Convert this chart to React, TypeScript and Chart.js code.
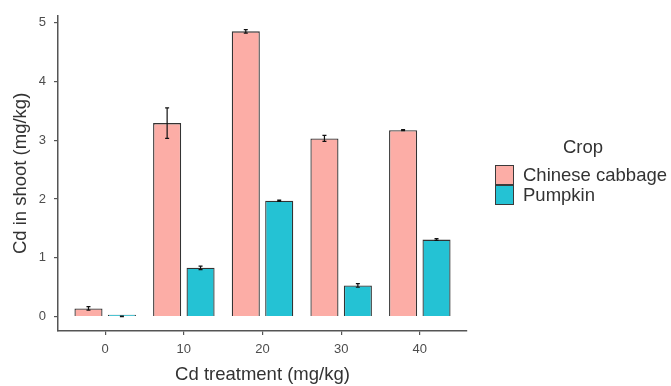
import React, { useEffect, useRef } from "react";
import { Chart, registerables } from "chart.js";

Chart.register(...registerables);

const categories = ["0", "10", "20", "30", "40"];
const cabbageMeans = [0.14, 3.29, 4.85, 3.03, 3.17];
const cabbageSE = [0.03, 0.26, 0.03, 0.05, 0.01];
const pumpkinMeans = [0.005, 0.83, 1.97, 0.53, 1.31];
const pumpkinSE = [0.004, 0.03, 0.01, 0.03, 0.015];
const yTicks = [0, 1, 2, 3, 4, 5];
const seriesNames = ["Chinese cabbage", "Pumpkin"];
const seriesColors = ["#FCADA6", "#24C2D4"];

const FONT = "'Liberation Sans', Arial, sans-serif";

const errorBarPlugin = {
  id: "errorBars",
  afterDatasetsDraw(chart: any) {
    const ctx = chart.ctx;
    const yScale = chart.scales.y;
    chart.data.datasets.forEach((ds: any, di: number) => {
      const meta = chart.getDatasetMeta(di);
      meta.data.forEach((bar: any, i: number) => {
        const m = ds.data[i].y;
        const s = ds.se[i];
        const yt = yScale.getPixelForValue(m + s);
        const yb = yScale.getPixelForValue(m - s);
        const x = bar.x;
        ctx.save();
        ctx.strokeStyle = "#111";
        ctx.lineWidth = 1.2;
        ctx.beginPath();
        ctx.moveTo(x, yt);
        ctx.lineTo(x, yb);
        ctx.moveTo(x - 2, yt);
        ctx.lineTo(x + 2, yt);
        ctx.moveTo(x - 2, yb);
        ctx.lineTo(x + 2, yb);
        ctx.stroke();
        ctx.restore();
      });
    });
  },
};

export default function App() {
  const canvasRef = useRef<HTMLCanvasElement | null>(null);

  useEffect(() => {
    const canvas = canvasRef.current;
    if (!canvas) return;
    const makeData = (vals: number[]) => vals.map((v, i) => ({ x: i + 1, y: v }));
    const chart = new Chart(canvas, {
      type: "bar",
      data: {
        datasets: [
          {
            label: seriesNames[0],
            data: makeData(cabbageMeans),
            se: cabbageSE,
            backgroundColor: seriesColors[0],
            borderColor: "#333",
            borderWidth: 1.3,
            categoryPercentage: 0.85,
            barPercentage: 0.84,
          } as any,
          {
            label: seriesNames[1],
            data: makeData(pumpkinMeans),
            se: pumpkinSE,
            backgroundColor: seriesColors[1],
            borderColor: "#333",
            borderWidth: 1.3,
            minBarLength: 2,
            categoryPercentage: 0.85,
            barPercentage: 0.84,
          } as any,
        ],
      },
      options: {
        responsive: false,
        animation: false,
        layout: { padding: { top: 11, right: 204, bottom: 0, left: 0 } },
        plugins: {
          legend: { display: false },
          tooltip: { enabled: false },
        },
        scales: {
          x: {
            type: "linear",
            offset: false,
            min: 0.4,
            max: 5.6,
            afterBuildTicks: (s: any) => {
              s.ticks = categories.map((_, i) => ({ value: i + 1 }));
            },
            afterFit: (s: any) => {
              s.height = 55;
            },
            ticks: {
              callback: (v: any) => categories[Math.round(Number(v)) - 1] ?? "",
              color: "#4d4d4d",
              font: { family: FONT, size: 13 },
              padding: 7,
              maxRotation: 0,
              autoSkip: false,
            },
            grid: {
              offset: false,
              drawOnChartArea: false,
              drawTicks: true,
              tickLength: 4,
              color: "#555",
              lineWidth: 1.2,
            },
            border: { display: true, color: "#555", width: 1.5 },
            title: {
              display: true,
              text: "Cd treatment (mg/kg)",
              color: "#333",
              font: { family: FONT, size: 18.5 },
              padding: { top: 0, bottom: 0 },
            },
          },
          y: {
            type: "linear",
            min: -0.244,
            max: 5.114,
            afterBuildTicks: (s: any) => {
              s.ticks = yTicks.map((v) => ({ value: v }));
            },
            afterFit: (s: any) => {
              s.width = 58;
            },
            ticks: {
              color: "#4d4d4d",
              font: { family: FONT, size: 13 },
              padding: 8,
            },
            grid: {
              drawOnChartArea: false,
              drawTicks: true,
              tickLength: 4,
              color: "#555",
              lineWidth: 1.2,
            },
            border: { display: true, color: "#555", width: 1.5 },
            title: {
              display: true,
              text: "Cd in shoot (mg/kg)",
              color: "#333",
              font: { family: FONT, size: 18.5 },
              padding: { top: 10, bottom: 0 },
            },
          },
        },
      } as any,
      plugins: [errorBarPlugin],
    });
    return () => chart.destroy();
  }, []);

  const legendText: React.CSSProperties = {
    position: "absolute",
    fontFamily: FONT,
    fontSize: "18.5px",
    color: "#333",
    lineHeight: "20px",
    whiteSpace: "nowrap",
  };

  return (
    <div
      style={{
        position: "fixed",
        left: 0,
        top: 0,
        width: 671,
        height: 386,
        background: "#fff",
      }}
    >
      <canvas ref={canvasRef} width={671} height={386} style={{ display: "block" }} />
      <div style={{ ...legendText, left: 563, top: 137 }}>Crop</div>
      {seriesNames.map((name, i) => (
        <React.Fragment key={name}>
          <div
            style={{
              position: "absolute",
              left: 495,
              top: 165 + i * 20,
              width: 19,
              height: 20,
              boxSizing: "border-box",
              background: seriesColors[i],
              border: "1.2px solid #3a3a3a",
            }}
          />
          <div style={{ ...legendText, left: 523, top: 165 + i * 20 }}>{name}</div>
        </React.Fragment>
      ))}
    </div>
  );
}
